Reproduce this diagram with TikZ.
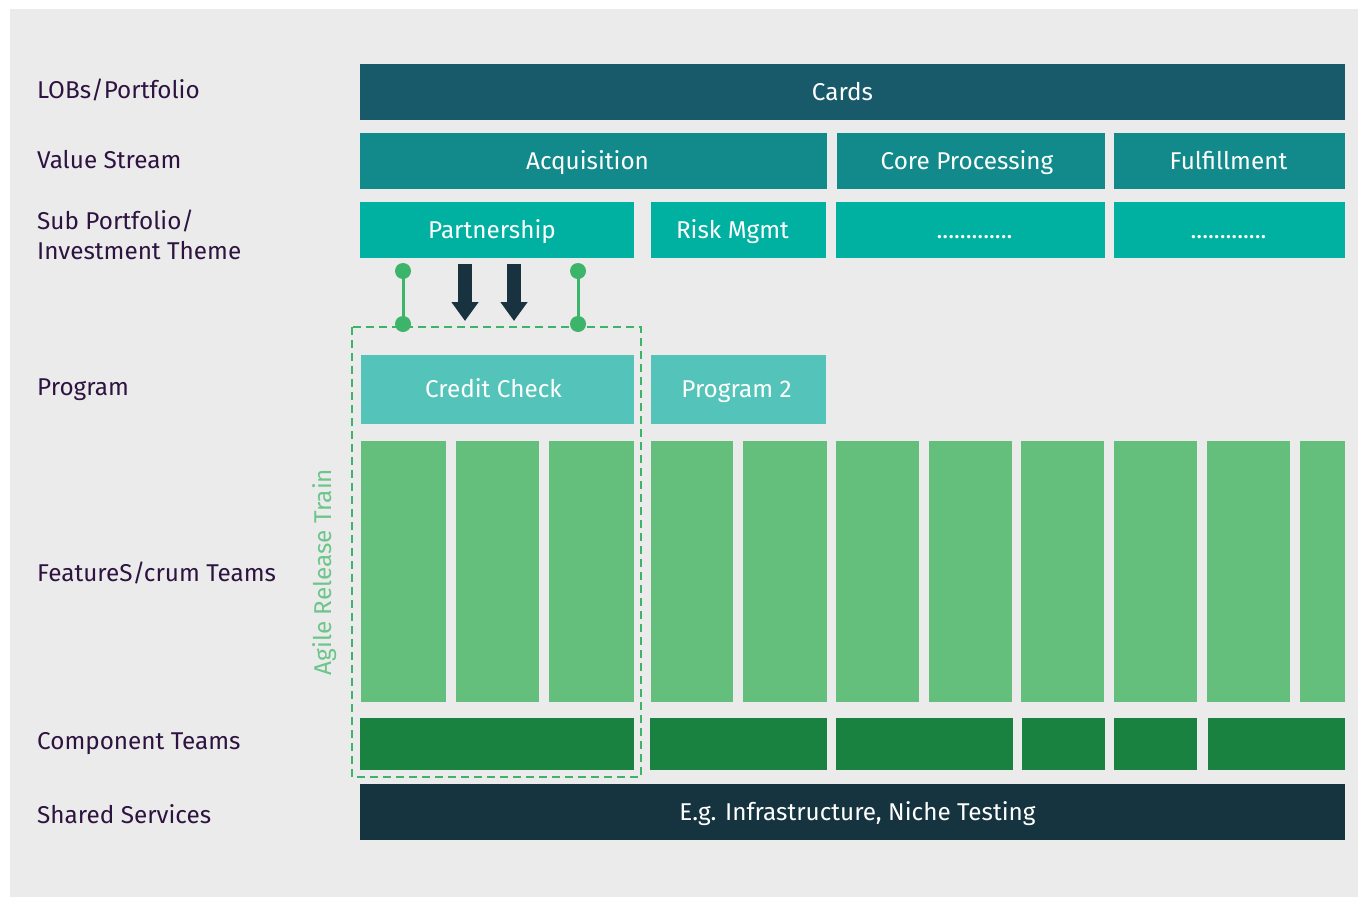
\documentclass[tikz,border=0pt]{standalone}
\usepackage{fontspec}
\setmainfont{Fira Sans}
\usetikzlibrary{arrows.meta}
\definecolor{bgc}{HTML}{EBEBEB}
\definecolor{lobc}{HTML}{185A6A}
\definecolor{vsc}{HTML}{12898A}
\definecolor{spc}{HTML}{00B0A0}
\definecolor{prgc}{HTML}{54C3B9}
\definecolor{ftc}{HTML}{64BF7C}
\definecolor{cmpc}{HTML}{1A8240}
\definecolor{shc}{HTML}{163440}
\definecolor{labc}{HTML}{2E1340}
\definecolor{artc}{HTML}{3CB46A}
\definecolor{arttxt}{HTML}{6CC58A}
\definecolor{arrc}{HTML}{18333F}
\tikzset{
  blk/.style={anchor=north west, inner sep=0pt, outer sep=0pt},
  blktext/.style={anchor=base, inner sep=0pt, text=white,
    font=\fontsize{24.3}{28}\selectfont},
  rowlabel/.style={anchor=base west, inner sep=0pt, text=labc, align=left,
    font=\fontsize{24.3}{30}\selectfont},
  artbox/.style={draw=artc, line width=2.5pt, dash pattern=on 8pt off 5pt},
  linkline/.style={draw=artc, line width=3pt},
  linkdot/.style={fill=artc},
  bigarrow/.style={draw=arrc, line width=14pt, -{Triangle[width=26pt,length=19pt]}},
}
\newcommand{\blkbox}[8]{% name, x, y, w, h, color, text, xshift
  \node[blk, fill=#6, minimum width=#4pt, minimum height=#5pt] (#1) at (#2,#3) {};
  \node[blktext, yshift=-8pt, xshift=#8pt] at (#1.center) {#7};
}
\begin{document}
\begin{tikzpicture}[x=1pt,y=-1pt]
\fill[white] (0,0) rectangle (1358,897);
\useasboundingbox (0,0) rectangle (1358,897);
\fill[bgc] (10,9) rectangle (1358,897);

% row labels
\node[rowlabel] (l1) at (37,98) {LOBs/Portfolio};
\node[rowlabel] (l2) at (37,168) {Value Stream};
\node[rowlabel] (l3a) at (37,229) {Sub Portfolio/};
\node[rowlabel] (l3b) at (37,259) {Investment Theme};
\node[rowlabel] (l4) at (37,395) {Program};
\node[rowlabel] (l5) at (37,581) {FeatureS/crum Teams};
\node[rowlabel] (l6) at (37,749) {Component Teams};
\node[rowlabel] (l7) at (37,823) {Shared Services};

% LOB
\blkbox{cards}{360}{64}{985}{56}{lobc}{Cards}{-10}
% value streams
\blkbox{acq}{360}{133}{467}{56}{vsc}{Acquisition}{-6}
\blkbox{core}{837}{133}{268}{56}{vsc}{Core Processing}{-4}
\blkbox{ful}{1114}{133}{231}{56}{vsc}{Fulfillment}{-1}
% sub portfolios
\blkbox{part}{360}{202}{274}{56}{spc}{Partnership}{-5}
\blkbox{risk}{651}{202}{175}{56}{spc}{Risk Mgmt}{-6}
\blkbox{sp3}{836}{202}{269}{56}{spc}{.............}{4}
\blkbox{sp4}{1114}{202}{231}{56}{spc}{.............}{-1}
% programs
\blkbox{cc}{361}{355}{273}{69}{prgc}{Credit Check}{-4}
\blkbox{p2}{651}{355}{175}{69}{prgc}{Program 2}{-2}
% feature teams
\foreach \i/\x/\w in {1/361/85,2/456/83,3/549/85,4/651/82,5/743/84,6/836/83,7/929/83,8/1021/83,9/1114/83,10/1207/83,11/1300/45}
  \node[blk, fill=ftc, minimum width=\w pt, minimum height=261pt] (ft\i) at (\x,441) {};
% component teams
\foreach \i/\x/\w in {1/360/274,2/650/177,3/836/177,4/1022/83,5/1114/83,6/1208/137}
  \node[blk, fill=cmpc, minimum width=\w pt, minimum height=52pt] (ct\i) at (\x,718) {};
% shared services
\blkbox{shared}{360}{784}{985}{56}{shc}{E.g. Infrastructure, Niche Testing}{5}

% agile release train
\draw[artbox] (352,327) rectangle (641,777);
\node[rotate=90, text=arttxt, inner sep=0pt, font=\fontsize{24.3}{28}\selectfont] (art) at (325,572) {Agile Release Train};

% links partnership -> ART
\coordinate (d1a) at (403,271);
\coordinate (d1b) at (403,324);
\coordinate (d2a) at (578,271);
\coordinate (d2b) at (578,324);
\draw[linkline] (d1a) -- (d1b);
\draw[linkline] (d2a) -- (d2b);
\foreach \c in {d1a,d1b,d2a,d2b} \fill[linkdot] (\c) circle (8pt);
\coordinate (a1s) at (465,264);
\coordinate (a1e) at (465,321);
\coordinate (a2s) at (514,264);
\coordinate (a2e) at (514,321);
\draw[bigarrow] (a1s) -- (a1e);
\draw[bigarrow] (a2s) -- (a2e);
\end{tikzpicture}
\end{document}
